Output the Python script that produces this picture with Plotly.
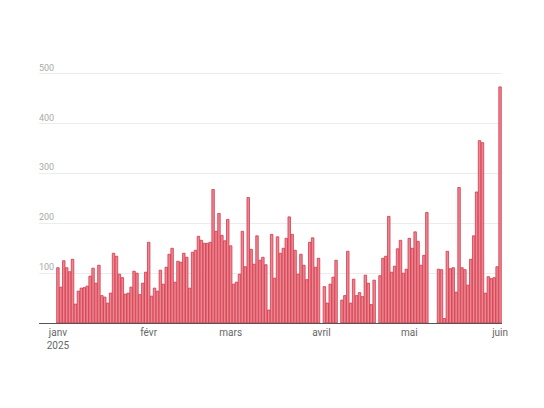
import pandas as pd
import plotly.graph_objects as go

jan = [111, 72, 125, 111, 103, 128, 38, 64, 70, 71, 74, 94, 110, 80, 116, 55,
       52, 40, 60, 140, 134, 98, 91, 58, 60, 72, 104, 100, 57, 80, 102]
feb = [162, 54, 70, 64, 106, 78, 112, 138, 150, 82, 124, 122, 140, 132, 70,
       142, 146, 174, 166, 160, 160, 162, 268, 184, 220, 176, 165, 208]
mar = [155, 78, 82, 98, 184, 113, 252, 148, 118, 175, 126, 132, 117, 26, 178,
       90, 173, 140, 150, 170, 213, 178, 146, 98, 138, 116, 87, 162, 171, 112, 130]
apr = [None, 73, 40, 78, 92, 126, None, 46, 55, 144, 40, 88, 55, 61, 53, 96,
       80, 37, 86, None, 95, 130, 134, 214, 102, 114, 149, 166, 100, 108]
may = [170, 150, 183, 164, 116, 136, 222, None, None, None, 108, 107, 9, 144,
       109, 111, 62, 272, 111, 107, 76, 128, 175, 263, 366, 362, 60, 93, 89, 91, 113]
jun = [474]

values = jan + feb + mar + apr + may + jun
dates = pd.date_range("2025-01-01", periods=len(values), freq="D")

tick_vals = ["2025-01-01", "2025-02-01", "2025-03-01", "2025-04-01", "2025-05-01", "2025-06-01"]
tick_text = ["janv<br>2025", "févr", "mars", "avril", "mai", "juin"]
y_ticks = [100, 200, 300, 400, 500]

fig = go.Figure(go.Bar(
    x=dates, y=values,
    marker=dict(color="#ea8891", line=dict(color="#d6364a", width=0.8)),
    hoverinfo="x+y",
))

fig.update_layout(
    width=536, height=400,
    margin=dict(l=31, r=42, t=46, b=85),
    paper_bgcolor="white", plot_bgcolor="white",
    bargap=0.15,
    showlegend=False,
    font=dict(family="Roboto, Liberation Sans, sans-serif", size=10, color="#666"),
)
fig.update_xaxes(
    type="date",
    range=["2024-12-25 13:00", "2025-06-01 16:00"],
    tickvals=tick_vals, ticktext=tick_text,
    showgrid=False, ticks="",
    showline=True, linecolor="#555", linewidth=1,
    tickfont=dict(size=10, color="#666"),
)
fig.update_yaxes(
    range=[0, 540],
    tickvals=y_ticks,
    showgrid=True, gridcolor="#ececec", gridwidth=1,
    zeroline=False, showline=False,
    ticklabelposition="inside top",
    ticklabelstandoff=-3,
    tickfont=dict(size=9, color="#aaaaaa"),
)

fig.write_html("out.html")
